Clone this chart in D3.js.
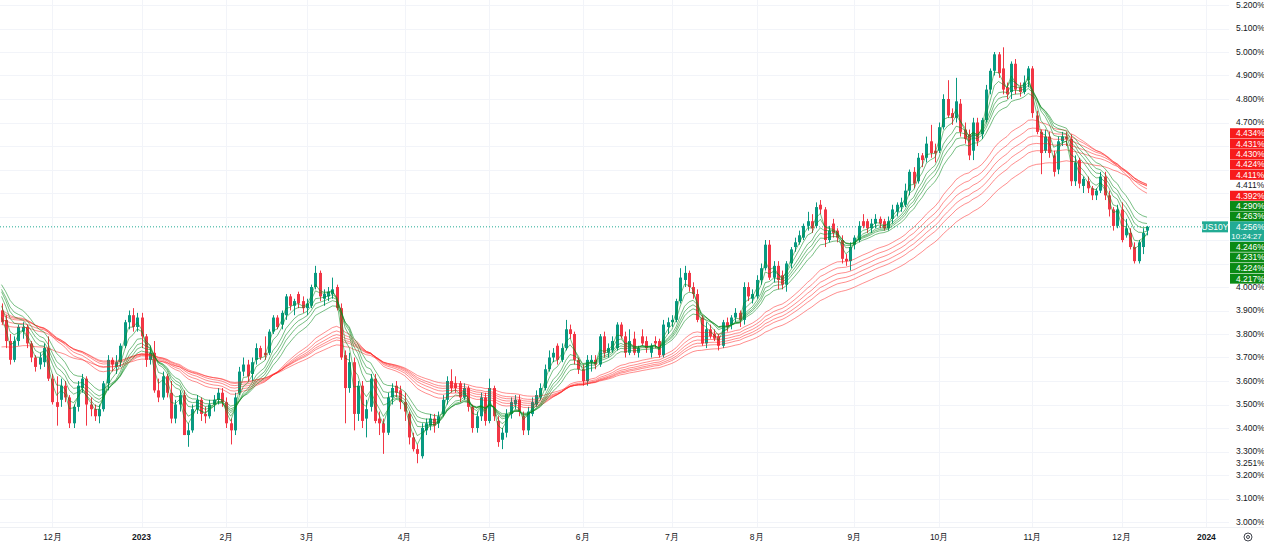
<!DOCTYPE html>
<html>
<head>
<meta charset="utf-8">
<script src="https://cdn.jsdelivr.net/npm/d3@7"></script>
<style>
  body { margin: 0; background: #fff; }
  svg { display: block; }
  text { font-family: "Liberation Sans", Arial, sans-serif; }
</style>
</head>
<body>
<svg id="chart" width="1264" height="546"></svg>
<script>
// US10Y daily candles, 2022-11-14 .. 2023-12-11 (one row per month)
const opens = [
  3.90,3.86,3.77,3.69,3.77,3.81,3.83,3.76,3.70,3.67,3.68,3.74,
  3.61,3.51,3.52,3.58,3.53,3.42,3.49,3.57,3.61,3.50,3.48,3.45,3.48,3.59,3.69,3.66,3.68,3.75,3.85,3.88,3.83,
  3.87,3.79,3.69,3.72,3.56,3.53,3.62,3.55,3.44,3.50,3.54,3.37,3.39,3.48,3.52,3.46,3.45,3.50,3.52,3.55,
  3.51,3.42,3.39,3.55,3.64,3.67,3.63,3.69,3.74,3.72,3.72,3.81,3.87,3.84,3.88,3.96,3.92,3.97,3.94,
  3.91,3.92,4.00,4.06,3.95,3.96,3.97,4.00,3.91,3.71,3.57,3.68,3.46,3.58,3.44,3.49,3.61,3.44,3.42,3.38,3.53,3.58,3.56,
  3.51,3.46,3.36,3.31,3.28,3.39,3.41,3.44,3.42,3.46,3.52,3.60,3.59,3.59,3.53,3.57,3.49,3.40,3.45,3.53,
  3.43,3.57,3.43,3.35,3.38,3.46,3.50,3.52,3.45,3.39,3.46,3.50,3.53,3.57,3.65,3.70,3.75,3.69,3.74,3.82,3.80,3.69,
  3.65,3.60,3.68,3.69,3.67,3.79,3.72,3.73,3.74,3.84,3.79,3.72,3.78,3.72,3.79,3.77,3.72,3.77,3.77,3.71,3.83,
  3.85,3.86,3.94,4.03,4.06,4.00,3.97,3.87,3.76,3.82,3.80,3.79,3.75,3.85,3.84,3.87,3.89,3.86,4.00,3.95,
  3.96,4.03,4.08,4.18,4.04,4.09,4.05,4.01,4.10,4.17,4.19,4.21,4.26,4.28,4.26,4.35,4.33,4.20,4.27,4.24,4.20,4.12,4.11,
  4.18,4.20,4.28,4.28,4.25,4.27,4.29,4.28,4.25,4.29,4.32,4.34,4.35,4.41,4.49,4.45,4.56,4.55,4.62,4.58,
  4.58,4.68,4.80,4.74,4.72,4.78,4.67,4.65,4.58,4.70,4.65,4.71,4.84,4.92,4.99,4.93,4.85,4.83,4.95,4.85,4.83,4.88,
  4.93,4.73,4.66,4.58,4.64,4.56,4.50,4.62,4.64,4.63,4.45,4.54,4.43,4.45,4.42,4.39,4.41,4.47,4.39,4.33,4.26,
  4.33,4.22,4.23,4.17,4.11,4.17,4.24
];
const highs = [
  3.93,3.88,3.80,3.79,3.84,3.85,3.84,3.77,3.71,3.72,3.76,3.79,
  3.63,3.62,3.61,3.60,3.54,3.50,3.60,3.63,3.62,3.53,3.50,3.50,3.60,3.71,3.70,3.71,3.76,3.86,3.90,3.91,3.89,
  3.89,3.80,3.75,3.77,3.61,3.64,3.63,3.60,3.52,3.56,3.56,3.42,3.50,3.54,3.53,3.49,3.52,3.54,3.57,3.57,
  3.53,3.44,3.55,3.66,3.70,3.69,3.70,3.76,3.75,3.79,3.82,3.88,3.88,3.90,3.97,3.97,3.95,3.98,3.96,
  3.95,4.01,4.09,4.07,3.99,4.00,4.04,4.01,3.93,3.73,3.72,3.70,3.60,3.60,3.52,3.63,3.63,3.47,3.44,3.55,3.59,3.60,3.58,
  3.55,3.47,3.38,3.33,3.42,3.44,3.46,3.46,3.47,3.54,3.62,3.65,3.62,3.60,3.59,3.58,3.50,3.47,3.55,3.55,
  3.61,3.58,3.45,3.40,3.48,3.53,3.54,3.54,3.47,3.49,3.53,3.56,3.59,3.67,3.73,3.74,3.76,3.76,3.86,3.84,3.81,3.70,
  3.67,3.71,3.71,3.71,3.80,3.81,3.76,3.79,3.85,3.85,3.81,3.82,3.81,3.75,3.82,3.79,3.76,3.79,3.78,3.86,3.87,
  3.88,3.95,4.08,4.09,4.07,4.02,3.99,3.88,3.85,3.84,3.82,3.80,3.86,3.87,3.88,3.91,3.90,4.02,4.02,3.99,
  4.05,4.10,4.20,4.20,4.11,4.11,4.07,4.11,4.17,4.21,4.24,4.27,4.32,4.31,4.36,4.37,4.34,4.26,4.29,4.25,4.22,4.14,4.19,
  4.22,4.28,4.31,4.29,4.29,4.31,4.30,4.29,4.30,4.35,4.36,4.38,4.44,4.50,4.51,4.57,4.57,4.64,4.69,4.61,
  4.70,4.82,4.88,4.76,4.89,4.80,4.70,4.67,4.72,4.72,4.72,4.86,4.93,5.00,5.00,5.02,4.87,4.96,4.97,4.87,4.90,4.94,
  4.94,4.75,4.67,4.67,4.66,4.58,4.64,4.66,4.66,4.65,4.56,4.55,4.47,4.47,4.43,4.42,4.49,4.49,4.41,4.34,4.35,
  4.36,4.29,4.25,4.19,4.20,4.25,4.26
];
const lows = [
  3.84,3.74,3.67,3.68,3.75,3.78,3.74,3.68,3.64,3.65,3.66,3.60,
  3.50,3.41,3.49,3.51,3.40,3.40,3.47,3.55,3.41,3.45,3.43,3.42,3.47,3.56,3.64,3.63,3.66,3.74,3.82,3.81,3.81,
  3.74,3.66,3.67,3.55,3.51,3.52,3.53,3.42,3.42,3.47,3.37,3.32,3.38,3.46,3.43,3.42,3.44,3.47,3.50,3.49,
  3.40,3.33,3.37,3.54,3.62,3.60,3.60,3.67,3.69,3.69,3.71,3.80,3.82,3.82,3.86,3.90,3.88,3.91,3.89,
  3.88,3.91,3.99,3.94,3.92,3.94,3.95,3.90,3.69,3.42,3.55,3.39,3.43,3.40,3.36,3.47,3.42,3.37,3.29,3.37,3.50,3.53,3.48,
  3.43,3.33,3.30,3.25,3.27,3.37,3.39,3.38,3.40,3.45,3.50,3.55,3.55,3.51,3.52,3.47,3.38,3.38,3.43,3.41,
  3.42,3.43,3.32,3.31,3.36,3.44,3.48,3.45,3.37,3.37,3.45,3.49,3.52,3.56,3.64,3.68,3.67,3.68,3.73,3.78,3.67,3.63,
  3.58,3.58,3.64,3.65,3.66,3.70,3.70,3.72,3.73,3.78,3.70,3.71,3.71,3.70,3.75,3.72,3.70,3.74,3.70,3.70,3.80,
  3.83,3.85,3.93,4.00,3.98,3.95,3.85,3.75,3.74,3.78,3.77,3.73,3.74,3.81,3.82,3.85,3.83,3.84,3.94,3.93,
  3.95,4.01,4.07,4.03,4.02,3.99,3.99,3.98,4.08,4.15,4.18,4.20,4.24,4.23,4.25,4.31,4.17,4.19,4.21,4.19,4.10,4.09,4.07,
  4.16,4.19,4.25,4.23,4.23,4.25,4.25,4.24,4.24,4.27,4.30,4.32,4.34,4.39,4.42,4.44,4.51,4.53,4.55,4.53,
  4.57,4.67,4.72,4.69,4.70,4.64,4.61,4.54,4.54,4.60,4.63,4.70,4.82,4.90,4.89,4.82,4.80,4.80,4.82,4.81,4.82,4.85,
  4.72,4.65,4.48,4.57,4.55,4.47,4.48,4.60,4.60,4.43,4.43,4.42,4.40,4.40,4.37,4.37,4.40,4.37,4.30,4.24,4.25,
  4.19,4.21,4.16,4.10,4.10,4.14,4.22
];
const closes = [
  3.85,3.77,3.69,3.77,3.83,3.83,3.76,3.70,3.66,3.70,3.74,3.61,
  3.51,3.49,3.58,3.53,3.42,3.49,3.58,3.61,3.50,3.48,3.45,3.48,3.59,3.69,3.67,3.68,3.75,3.85,3.88,3.83,3.87,
  3.79,3.69,3.72,3.56,3.53,3.62,3.55,3.44,3.50,3.54,3.37,3.39,3.48,3.52,3.46,3.45,3.50,3.52,3.55,3.51,
  3.42,3.39,3.53,3.64,3.67,3.62,3.68,3.74,3.70,3.71,3.81,3.87,3.83,3.89,3.96,3.92,3.94,3.93,3.91,
  3.93,4.00,4.06,3.96,3.97,3.98,3.99,3.91,3.70,3.57,3.68,3.46,3.58,3.43,3.48,3.61,3.43,3.42,3.38,3.53,3.57,3.55,3.51,
  3.47,3.36,3.31,3.29,3.40,3.42,3.44,3.41,3.45,3.52,3.60,3.57,3.57,3.53,3.57,3.49,3.40,3.45,3.53,3.43,
  3.57,3.45,3.34,3.38,3.46,3.51,3.52,3.47,3.39,3.47,3.51,3.54,3.57,3.65,3.70,3.72,3.69,3.74,3.82,3.80,3.69,3.65,
  3.60,3.69,3.69,3.67,3.79,3.72,3.74,3.77,3.84,3.79,3.72,3.77,3.72,3.74,3.76,3.74,3.75,3.76,3.71,3.84,3.85,
  3.86,3.94,4.04,4.06,4.00,3.97,3.86,3.76,3.82,3.79,3.78,3.75,3.85,3.83,3.87,3.89,3.86,4.00,3.96,3.97,
  4.03,4.08,4.18,4.04,4.09,4.03,4.01,4.10,4.16,4.19,4.22,4.26,4.28,4.25,4.34,4.33,4.20,4.24,4.23,4.21,4.12,4.11,4.17,
  4.21,4.26,4.26,4.25,4.27,4.29,4.27,4.25,4.28,4.33,4.35,4.36,4.41,4.49,4.44,4.55,4.54,4.61,4.57,4.57,
  4.68,4.80,4.73,4.72,4.79,4.66,4.63,4.56,4.70,4.62,4.71,4.84,4.92,4.99,4.91,4.84,4.82,4.95,4.84,4.83,4.87,4.93,
  4.74,4.66,4.57,4.64,4.57,4.49,4.62,4.64,4.63,4.45,4.53,4.44,4.46,4.42,4.39,4.41,4.47,4.39,4.33,4.26,4.33,
  4.20,4.25,4.17,4.11,4.19,4.23,4.256
];

// market holidays (no bar)
const holidays = ["2022-11-24","2022-12-26","2023-01-02","2023-01-16","2023-02-20","2023-05-29",
  "2023-06-19","2023-07-04","2023-09-04","2023-11-23","2023-12-25","2024-01-01"];

// Guppy MMA: periods and their values on the first visible bar
const shortPeriods = [3, 5, 8, 10, 12, 15];
const shortStart = [3.87, 3.92, 3.96, 3.98, 3.99, 4.01];
const longPeriods = [30, 35, 40, 45, 50, 60];
const longStart = [3.90, 3.89, 3.88, 3.86, 3.84, 3.745];

// labels on the price scale
const longLabels = [4.434, 4.431, 4.430, 4.424, 4.411];
const midLabel = 4.411;
const longLastLabel = 4.392;
const shortLabelsAbove = [4.290, 4.263];
const shortLabelsBelow = [4.246, 4.231, 4.224, 4.217];
const lastPrice = 4.256;
const countdown = "10:24:27";
const symbol = "US10Y";
const lowLabel = 3.251;

const priceTicks = d3.range(30, 53).map(d => d / 10);

const svg = d3.select("#chart");
const plotRight = 1229, plotBottom = 527;

// trading days
const fmt = d3.utcFormat("%Y-%m-%d");
const days = d3.utcDay.range(new Date(Date.UTC(2022, 10, 14)), new Date(Date.UTC(2024, 0, 6)))
  .filter(d => d.getUTCDay() % 6 !== 0 && !holidays.includes(fmt(d)));

const n = closes.length;
const x = d3.scaleLinear().domain([0, n - 1]).range([1.5, 1147]);
const y = d3.scaleLinear().domain([3.0, 5.2]).range([522, 5]);

// month ticks
const monthTicks = [];
days.forEach((d, i) => {
  if (i > 0 && d.getUTCMonth() !== days[i - 1].getUTCMonth()) monthTicks.push({ i, d });
});

// grid
svg.append("g").selectAll("line").data(priceTicks).join("line")
  .attr("x1", 0).attr("x2", plotRight)
  .attr("y1", d => Math.round(y(d)) + 0.5).attr("y2", d => Math.round(y(d)) + 0.5)
  .attr("stroke", "#f2f4f9");
svg.append("g").selectAll("line").data(monthTicks.filter(t => x(t.i) < plotRight)).join("line")
  .attr("x1", t => Math.round(x(t.i)) + 0.5).attr("x2", t => Math.round(x(t.i)) + 0.5)
  .attr("y1", 0).attr("y2", plotBottom)
  .attr("stroke", "#f2f4f9");

// last price dotted line
svg.append("line")
  .attr("x1", 0).attr("x2", plotRight)
  .attr("y1", y(lastPrice)).attr("y2", y(lastPrice))
  .attr("stroke", "#22ab94").attr("stroke-dasharray", "1,2");

// candles
const up = "#089981", down = "#f23645";
const candles = svg.append("g").selectAll("g").data(d3.range(n)).join("g")
  .attr("fill", i => closes[i] >= opens[i] ? up : down)
  .attr("stroke", i => closes[i] >= opens[i] ? up : down);
candles.append("line")
  .attr("x1", i => Math.round(x(i)) + 0.5).attr("x2", i => Math.round(x(i)) + 0.5)
  .attr("y1", i => y(Math.max(highs[i], opens[i], closes[i])))
  .attr("y2", i => y(Math.min(lows[i], opens[i], closes[i])));
candles.append("rect")
  .attr("stroke", "none")
  .attr("x", i => Math.round(x(i)) - 1)
  .attr("width", 3)
  .attr("y", i => y(Math.max(opens[i], closes[i])))
  .attr("height", i => Math.max(1, Math.abs(y(opens[i]) - y(closes[i]))));

// GMMA lines
function ema(period, start) {
  const a = 2 / (period + 1);
  const out = [start];
  for (let i = 1; i < n; i++) out.push(a * closes[i] + (1 - a) * out[i - 1]);
  return out;
}
const line = d3.line().x((d, i) => x(i)).y(d => y(d));
const gLines = svg.append("g").attr("fill", "none").attr("stroke-width", 1);
longPeriods.forEach((p, k) => {
  gLines.append("path").attr("d", line(ema(p, longStart[k])))
    .attr("stroke", "#ff1e1e").attr("stroke-opacity", 0.5);
});
shortPeriods.forEach((p, k) => {
  gLines.append("path").attr("d", line(ema(p, shortStart[k])))
    .attr("stroke", "#0a8a1e").attr("stroke-opacity", 0.55);
});

// price scale
svg.append("line").attr("x1", 0).attr("x2", 1264)
  .attr("y1", plotBottom + 0.5).attr("y2", plotBottom + 0.5).attr("stroke", "#eef0f4");

const priceY = y(lastPrice);
const step = 10.4;
// stacked labels above the last price (nearest first)
const above = [
  ...shortLabelsAbove.slice().reverse().map(v => ({ v, kind: "short" })),
  { v: longLastLabel, kind: "long" },
  { v: midLabel, kind: "plain" },
  ...longLabels.slice().reverse().map(v => ({ v, kind: "long" }))
];
above.forEach((d, k) => { d.cy = priceY - step * (k + 1); });
const below = shortLabelsBelow.map((v, k) => ({ v, kind: "short", cy: priceY + 20 + k * 10.6 }));
const stack = above.concat(below);
const stackTop = d3.min(stack, d => d.cy) - 5, stackBottom = d3.max(stack, d => d.cy) + 5;

svg.append("g").selectAll("text")
  .data(priceTicks.filter(v => y(v) < stackTop - 2 || y(v) > stackBottom + 2)).join("text")
  .attr("x", 1236).attr("y", d => y(d)).attr("dy", "0.35em")
  .attr("font-size", 8.5).attr("fill", "#131722")
  .text(d => d.toFixed(3) + "%");

svg.append("rect").attr("x", plotRight + 1).attr("width", 35)
  .attr("y", y(lowLabel) - 5).attr("height", 10).attr("fill", "#fff");
svg.append("text").attr("x", 1236).attr("y", y(lowLabel)).attr("dy", "0.35em")
  .attr("font-size", 8.5).attr("fill", "#131722").text(lowLabel.toFixed(3) + "%");

const fills = { long: "#f71b1b", short: "#0b8a14", plain: "#fff" };
const lab = svg.append("g").selectAll("g").data(stack).join("g");
lab.append("rect").attr("x", plotRight + 1).attr("width", 35)
  .attr("y", d => d.cy - 5).attr("height", 10)
  .attr("fill", d => fills[d.kind]);
lab.append("text").attr("x", 1236).attr("y", d => d.cy).attr("dy", "0.35em")
  .attr("font-size", 8.5).attr("fill", d => d.kind === "plain" ? "#131722" : "#fff")
  .text(d => d.v.toFixed(3) + "%");

// last price label
svg.append("rect").attr("x", plotRight + 1).attr("width", 35)
  .attr("y", priceY - 5.5).attr("height", 20).attr("fill", "#22ab94");
svg.append("text").attr("x", 1236).attr("y", priceY).attr("dy", "0.35em")
  .attr("font-size", 8.5).attr("fill", "#fff").text(lastPrice.toFixed(3) + "%");
svg.append("text").attr("x", 1246.5).attr("y", priceY + 9.5).attr("dy", "0.35em")
  .attr("text-anchor", "middle").attr("font-size", 7.8).attr("fill", "#fff").text(countdown);
svg.append("rect").attr("x", 1202).attr("width", 26)
  .attr("y", priceY - 5.5).attr("height", 11).attr("fill", "#22ab94");
svg.append("text").attr("x", 1215).attr("y", priceY).attr("dy", "0.35em")
  .attr("text-anchor", "middle").attr("font-size", 8.5).attr("fill", "#fff").text(symbol);

// time scale
svg.append("g").selectAll("text").data(monthTicks.filter(t => x(t.i) < plotRight - 10)).join("text")
  .attr("x", t => x(t.i)).attr("y", 537).attr("dy", "0.35em")
  .attr("text-anchor", "middle").attr("font-size", 8.5).attr("fill", "#131722")
  .attr("font-weight", t => t.d.getUTCMonth() === 0 ? "bold" : null)
  .text(t => t.d.getUTCMonth() === 0 ? t.d.getUTCFullYear() : (t.d.getUTCMonth() + 1) + "月");

// settings icon
svg.append("circle").attr("cx", 1248).attr("cy", 537).attr("r", 4)
  .attr("fill", "none").attr("stroke", "#131722").attr("stroke-width", 0.8);
svg.append("circle").attr("cx", 1248).attr("cy", 537).attr("r", 1.5)
  .attr("fill", "none").attr("stroke", "#131722").attr("stroke-width", 0.8);
</script>
</body>
</html>
